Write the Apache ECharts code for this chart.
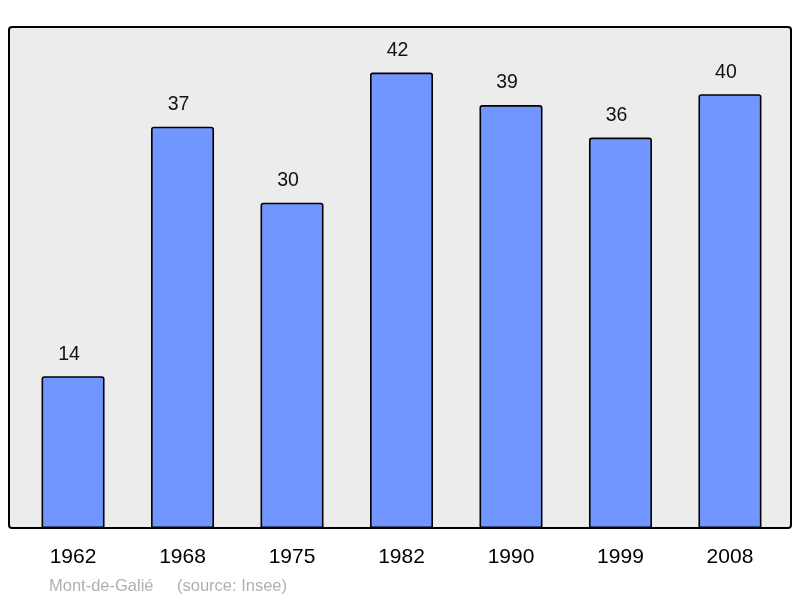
<!DOCTYPE html>
<html>
<head>
<meta charset="utf-8">
<script src="https://cdn.jsdelivr.net/npm/echarts@6/dist/echarts.min.js"></script>
<style>
  html, body { margin: 0; padding: 0; background: #fff; }
  #chart { width: 800px; height: 598px; }
</style>
</head>
<body>
<div id="chart"></div>
<script>
// population par recensement
var years = ["1962", "1968", "1975", "1982", "1990", "1999", "2008"];
var population = [14, 37, 30, 42, 39, 36, 40];
var townName = "Mont-de-Galié";
var sourceText = "(source: Insee)";

var chart = echarts.init(document.getElementById("chart"));

var footStyle = {
  fontFamily: "Liberation Sans",
  fontSize: 16.5,
  fontWeight: "normal",
  color: "#b0b0b0"
};

var option = {
  animation: false,
  backgroundColor: "#ffffff",
  title: [
    { text: townName, left: 49, top: 578, padding: 0, textStyle: footStyle },
    { text: sourceText, left: 177, top: 578, padding: 0, textStyle: footStyle }
  ],
  // cadre gris arrondi derrière les barres
  graphic: [
    {
      type: "rect",
      z: -1,
      shape: { x: 9, y: 27, width: 782, height: 501, r: 3 },
      style: { fill: "#ececec", stroke: "#000000", lineWidth: 2 }
    }
  ],
  grid: {
    left: 18.3,
    right: 15.3,
    top: 27,
    bottom: 70
  },
  xAxis: {
    type: "category",
    data: years,
    axisLine: { show: false },
    axisTick: { show: false },
    axisLabel: {
      margin: 19,
      fontFamily: "Liberation Sans",
      fontSize: 21,
      color: "#000000"
    }
  },
  yAxis: {
    type: "value",
    min: 0,
    max: 46.2,
    show: false,
    splitLine: { show: false }
  },
  series: [
    {
      type: "bar",
      data: population,
      barWidth: 63,
      itemStyle: {
        color: "#7196ff",
        borderColor: "#000000",
        borderWidth: 1.6,
        borderRadius: [2, 2, 0, 0]
      },
      label: {
        show: true,
        position: "top",
        distance: 12,
        offset: [-4, 0],
        fontFamily: "Liberation Sans",
        fontSize: 19.5,
        color: "#111111"
      }
    }
  ]
};

chart.setOption(option);
</script>
</body>
</html>
